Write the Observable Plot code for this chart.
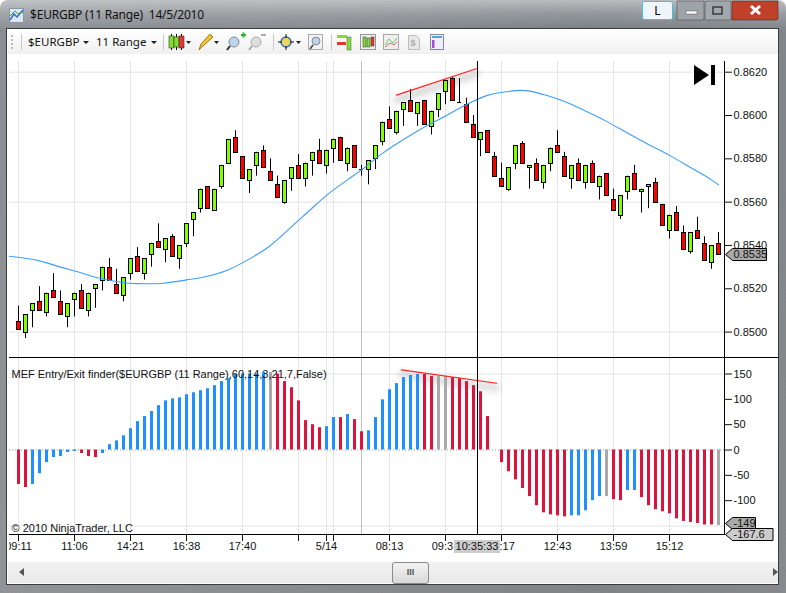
<!DOCTYPE html>
<html><head><meta charset="utf-8">
<script src="https://cdn.jsdelivr.net/npm/d3@7"></script>
<script src="https://cdn.jsdelivr.net/npm/@observablehq/plot@0.6"></script>
<style>
html,body{margin:0;padding:0;background:#fff;width:786px;height:593px;overflow:hidden}
#win{position:absolute;left:0;top:0;width:786px;height:593px;border-radius:8px 8px 0 0;overflow:hidden;
 background:linear-gradient(180deg,rgba(205,207,209,.7) 0,rgba(160,164,168,.35) 14px,rgba(100,105,110,.4) 30px,rgba(110,110,110,.35) 100%),linear-gradient(90deg,#a3a7ab,#989ca0 40%,#8a8f93 75%,#94989c);font-family:"Liberation Sans",Arial,sans-serif;color:#000}
#content{position:absolute;left:7px;top:29px;width:771px;height:555px;background:#fff;outline:1px solid #3a3d40}
#toolbar{position:absolute;left:8px;top:30px;width:770px;height:24px;background:linear-gradient(180deg,#fff,#f0f0f0)}
.ab{position:absolute}
#title{left:30px;top:6px;font:12px/18px "Noto Sans",sans-serif;letter-spacing:-.2px;color:#111;white-space:pre}
.tb{font:11.5px/16px "Noto Sans",sans-serif;color:#111;top:34px}
#pane1,#pane2{position:absolute;left:9px;width:769px}
#pane1{top:55px}#pane2{top:358px}
#divider{position:absolute;left:9px;width:770px;top:357px;height:1px;background:#000}
#scroll{position:absolute;left:8px;top:562px;width:770px;height:21px;background:linear-gradient(180deg,#f2f2f2,#e9e9e9)}
#thumb{position:absolute;left:384px;top:0;width:35px;height:20px;border:1px solid #8a8a8a;border-radius:3px;background:linear-gradient(180deg,#f4f4f4,#d8d8d8);text-align:center;font:bold 9px/19px "Liberation Sans";color:#555}
.shadow{filter:blur(3px)}
svg text{font-family:"Liberation Sans",Arial,sans-serif}
</style></head>
<body>
<div id="win">
 <div id="content"></div>
 <div id="toolbar"></div>
 <svg class="ab" style="left:0;top:0" width="786" height="56">
  <rect x="9.5" y="8.5" width="14" height="14" fill="#dfe6f0" stroke="#8a96a8"/>
  <polyline points="10,20 14,14 17,17 23,10" fill="none" stroke="#2a6fd0" stroke-width="1.5"/>
  <polyline points="10,16 15,11 18,14 23,12" fill="none" stroke="#3aa03a"/>
  <rect x="642.5" y="1.5" width="30" height="18" rx="2" fill="#eef6fb" stroke="#38c4e8"/>
  <path d="M677 1h27v17a2 2 0 0 1-2 2h-25z" fill="#9ea3a8" stroke="#4a4d50" stroke-width=".6"/>
  <path d="M705 1h26v19h-26z" fill="#a2a7ac" stroke="#4a4d50" stroke-width=".6"/>
  <path d="M732 1h46v17a2 2 0 0 1-2 2h-44z" fill="#c0412a" stroke="#4a2d25" stroke-width=".6"/>
  <rect x="686" y="11" width="11" height="3" fill="#fff" stroke="#555" stroke-width=".5"/>
  <rect x="713" y="7" width="9" height="7" fill="none" stroke="#333" stroke-width="1.4"/>
  <path d="M751 6l9 8M760 6l-9 8" stroke="#fff" stroke-width="3"/>
  <g fill="#bbb"><rect x="11" y="35" width="2" height="2"/><rect x="11" y="39" width="2" height="2"/><rect x="11" y="43" width="2" height="2"/><rect x="11" y="47" width="2" height="2"/></g>
  <g stroke="#c8c8c8"><path d="M21.5 34v16M163.5 34v16M273.5 34v16M331.5 34v16"/></g>
  <g fill="#222"><path d="M83 41h6l-3 3zM151 41h6l-3 3zM186 41h5l-2.500 3zM214 41h5l-2.500 3zM296 41h5l-2.500 3z"/></g>
  <g stroke="#000"><path d="M171.500 34v16M176.500 34v16M181.500 34v16"/></g>
  <rect x="169" y="36" width="5" height="12" fill="#7fe030" stroke="#333" stroke-width=".6"/><rect x="174" y="37" width="5" height="10" fill="#7fe030" stroke="#333" stroke-width=".6"/><rect x="179" y="36" width="5" height="12" fill="#e03a30" stroke="#333" stroke-width=".6"/>
  <path d="M199 50l2-6 9-10 3 3-10 9z" fill="#f4c430" stroke="#a07a10"/>
  <circle cx="234" cy="42" r="5" fill="#bcd4ea" stroke="#889"/><path d="M230 46l-3 4" stroke="#333" stroke-width="2"/><path d="M241 35h5M243.500 32.500v5" stroke="#2bb52b" stroke-width="2"/>
  <circle cx="256" cy="42" r="5" fill="#ddd" stroke="#aaa"/><path d="M252 46l-3 4" stroke="#aaa" stroke-width="2"/><path d="M261 35h5" stroke="#aaa" stroke-width="2"/>
  <circle cx="286" cy="42" r="5" fill="#e8d860" stroke="#3a70b0" stroke-width="1.500"/><path d="M278 42h4M290 42h4M286 34v4M286 46v4" stroke="#111"/>
  <rect x="308.500" y="34.500" width="14" height="15" fill="#f4f4f4" stroke="#aaa"/><circle cx="316" cy="41" r="4" fill="#bcd4ea" stroke="#889"/><path d="M313 45l-3 4" stroke="#444" stroke-width="1.500"/>
  <g><rect x="337" y="35" width="10" height="3" fill="#7fe030"/><rect x="337" y="42" width="9" height="3" fill="#e03a30"/><rect x="347" y="37" width="4" height="13" fill="#7fe030" stroke="#555" stroke-width=".5"/></g>
  <rect x="360.500" y="34.500" width="15" height="15" fill="#eee" stroke="#999"/><rect x="363" y="37" width="3" height="10" fill="#7fe030" stroke="#333" stroke-width=".5"/><rect x="367" y="38" width="3" height="9" fill="#7fe030" stroke="#333" stroke-width=".5"/><rect x="371" y="37" width="3" height="9" fill="#e03a30" stroke="#333" stroke-width=".5"/>
  <rect x="383.500" y="34.500" width="15" height="15" fill="#eee" stroke="#aaa"/><polyline points="385,45 389,39 393,43 397,38" fill="none" stroke="#6c6"/><polyline points="385,47 390,43 394,45 397,42" fill="none" stroke="#d66"/>
  <path d="M408.500 35.500h8l3 3v11h-11z" fill="#e8e8e8" stroke="#bbb"/><text x="410.500" y="46" font-size="9" font-weight="bold" fill="#aaa">$</text>
  <rect x="430.500" y="34.500" width="13" height="15" fill="#eef" stroke="#889"/><rect x="432" y="36" width="10" height="2" fill="#4aa8e0"/><rect x="432" y="40" width="2.500" height="8" fill="#a050d8"/>
 </svg>
 <div id="title" class="ab">$EURGBP (11 Range)  14/5/2010</div>
 <div class="ab" style="left:642px;top:3px;width:31px;text-align:center;font:12px/15px 'Noto Sans'">L</div>
 <div class="ab tb" style="left:28px">$EURGBP</div>
 <div class="ab tb" style="left:96px">11 Range</div>
 <div id="pane1"></div>
 <div id="pane2"></div>
 <div id="divider"></div>
 <svg class="ab" style="left:694px;top:65px" width="22" height="21"><path d="M0 0L15 10L0 20z" fill="#000"/><rect x="17" y="0" width="4" height="20" fill="#000"/></svg>
 <div id="scroll"><div id="thumb">III</div>
  <svg class="ab" style="left:0;top:0" width="770" height="21"><path d="M11 10l5-4v8zM765 6l5 4-5 4z" fill="#555"/></svg></div>
</div>
<script>
// ---- price pane (range bars) ----
const opens=[.8505,.8500,.8510,.8514,.8509,.8519,.8514,.8507,.8515,.8519,
.8510,.8520,.8524,.8530,.8522,.8517,.8527,.8535,.8527,.8536,
.8542,.8538,.8544,.8534,.8541,.8552,.8557,.8567,.8556,.8567,
.8578,.8590,.8581,.8570,.8577,.8584,.8574,.8568,.8560,.8571,
.8577,.8571,.8579,.8584,.8577,.8585,.8590,.8578,.8586,.8575,
.8575,.8580,.8588,.8598,.8592,.8603,.8607,.8601,.8607,.8595,
.8603,.8611,.8617,.8606,.8605,.8596,.8589,.8593,.8581,.8571,
.8566,.8578,.8587,.8576,.8578,.8569,.8578,.8586,.8581,.8571,
.8578,.8569,.8578,.8567,.8573,.8561,.8554,.8565,.8573,.8565,
.8567,.8569,.8559,.8547,.8555,.8546,.8537,.8547,.8541,.8532,.8541];
const highs=[.8512,.8508,.8513,.8521,.8518,.8527,.8519,.8513,.8518,.8522,
.8518,.8522,.8530,.8534,.8529,.8525,.8534,.8539,.8534,.8541,
.8550,.8543,.8545,.8540,.8550,.8555,.8566,.8567,.8566,.8577,
.8589,.8593,.8581,.8575,.8583,.8586,.8580,.8572,.8570,.8576,
.8582,.8578,.8583,.8589,.8584,.8589,.8590,.8585,.8586,.8577,
.8579,.8586,.8597,.8604,.8602,.8606,.8612,.8606,.8607,.8602,
.8610,.8616,.8618,.8617,.8608,.8600,.8592,.8593,.8583,.8578,
.8576,.8586,.8588,.8577,.8580,.8577,.8585,.8593,.8583,.8577,
.8580,.8577,.8579,.8572,.8573,.8566,.8563,.8572,.8577,.8566,
.8568,.8571,.8559,.8554,.8558,.8549,.8546,.8553,.8544,.8540,.8546];
const lows=[.8501,.8497,.8502,.8510,.8507,.8516,.8508,.8502,.8507,.8511,
.8507,.8511,.8519,.8524,.8518,.8514,.8524,.8528,.8524,.8530,
.8539,.8532,.8535,.8529,.8539,.8544,.8555,.8557,.8556,.8566,
.8578,.8583,.8571,.8564,.8572,.8576,.8570,.8562,.8559,.8565,
.8571,.8567,.8572,.8578,.8573,.8578,.8579,.8574,.8576,.8572,
.8568,.8575,.8586,.8594,.8591,.8595,.8602,.8595,.8596,.8591,
.8599,.8605,.8607,.8606,.8597,.8590,.8581,.8583,.8572,.8567,
.8565,.8575,.8578,.8566,.8570,.8566,.8574,.8583,.8572,.8566,
.8570,.8566,.8569,.8561,.8563,.8556,.8552,.8561,.8566,.8555,
.8557,.8560,.8549,.8543,.8547,.8538,.8536,.8543,.8533,.8529,.8536];
const closes=[.8501,.8508,.8513,.8510,.8518,.8516,.8508,.8513,.8518,.8511,
.8518,.8522,.8530,.8524,.8518,.8525,.8534,.8528,.8534,.8541,
.8539,.8543,.8535,.8540,.8550,.8555,.8566,.8557,.8566,.8577,
.8589,.8583,.8571,.8575,.8583,.8576,.8570,.8562,.8570,.8576,
.8571,.8578,.8583,.8578,.8584,.8589,.8579,.8585,.8576,.8575,
.8579,.8586,.8597,.8594,.8602,.8606,.8602,.8606,.8596,.8602,
.8610,.8616,.8607,.8606,.8597,.8590,.8592,.8583,.8572,.8567,
.8576,.8586,.8578,.8577,.8570,.8577,.8585,.8583,.8572,.8577,
.8570,.8577,.8569,.8572,.8563,.8556,.8563,.8572,.8566,.8566,
.8568,.8560,.8549,.8554,.8547,.8538,.8546,.8543,.8533,.8540,.8536];
const maBars=[-2,3,6,9,11,13,15,17,19,21,24,26,30,33,36,39,42,44,47,49,52,55,58,61,64,67,70,72,75,78,81,84,87,90,93,96,99,100];
const maValues=[.85352,.85329,.85300,.85273,.85253,.85239,.85228,.85224,.85223,.85227,.85241,.85251,.85288,.85338,.85400,.85486,.85574,.85631,.85703,.85749,.85825,.85889,.85947,.85998,.86051,.86093,.86111,.86116,.86097,.86065,.86021,.85973,.85919,.85866,.85816,.85760,.85703,.85680];
const priceTicks=[.8620,.8600,.8580,.8560,.8540,.8520,.8500];
const priceGrid=[.8620,.8560,.8500];
const priceTrendBars=[54,65.4], priceTrendValues=[.86094,.86216];
const lastPrice=.8535;
// ---- indicator pane ----
const histValues=[-68,-74,-68,-47,-25,-15,-13,-5,-3,-7,-13,-15,-7,10.5,18,28,42,56,66,76,87.5,97,101,103,109,113,117,121,127,135,141,149,150,150,150,
153,153,150,135,123,97,58,50,44,46,64,64,70,60,36,38,64,99,119,131,143,147,149,149,145,145,145,143,141,135,127,115,66,0,
-25,-43,-59,-76,-92,-110,-124,-128,-130,-132,-130,-130,-120,-100,-92,-92,-98,-100,-80,-80,-94,-110,-118,-122,-126,-136,-141,-143,-145,-148,-148,-149];
const histKinds=("rrbbbbbbbrrrbbbbbbbbbbbbbbbbbbbbbbb"+"bgrrrrrrrbbrbrrbbbbbbbbrrggrrrrrrn"+"rrrrrrrrrrbbbbbgrrbbrrrrrrrrrrrgr").split("");
const histPalette={r:"#dc143c",b:"#1e90ff",g:"#a9a9a9",n:"none"};
const indicatorTicks=[150,100,50,0,-50,-100];
const indicatorGrid=[150,-150];
const indicatorTrendBars=[54.7,68.3], indicatorTrendValues=[158.3,131.8];
const indicatorLast=-149, indicatorFlag2=-167.6;
const indicatorName="MEF Entry/Exit finder($EURGBP (11 Range),60,14,3,21,7,False)";
const copyright="© 2010 NinjaTrader, LLC";
// ---- shared time axis ----
const tickBars=[0,8,16,24,32,40,44,45,53,61,69,77,85,93];
const tickLabels=["09:11","11:06","14:21","16:38","17:40","","5/14","","08:13","09:31","11:17","12:43","13:59","15:12"];
const sessionBar=49, cursorBar=65.57, cursorLabel="10:35:33";

const bars=opens.map((o,i)=>({i,o,h:highs[i],l:lows[i],c:closes[i]}));
const ma=maBars.map((i,k)=>({i,v:maValues[k]}));
const hist=histValues.map((v,i)=>({i,v,k:histPalette[histKinds[i]]})).filter(d=>d.k!=="none");
const toPairs=(xs,ys)=>xs.map((i,k)=>({i,v:ys[k]}));
const xOpts={type:"linear",domain:[-9/7,-9/7+715/7],range:[0,715],axis:null};
const GRID="#e4e4e4", W=769, HW=2/7, FS=11;

function flag(value,label,fill,w,dy){
  return (idx,{y},vals,{width,marginRight})=>{
    const x0=width-marginRight+1.5, yy=Math.round(y(value)+dy)+.5, h=6;
    const g=d3.create("svg:g");
    g.append("polygon").attr("points",[[x0,yy],[x0+7,yy-h],[x0+w,yy-h],[x0+w,yy+h],[x0+7,yy+h]].join(" ")).attr("fill",fill).attr("stroke","#000").attr("stroke-width",1);
    g.append("text").attr("x",x0+8).attr("y",yy).attr("dy","0.36em").attr("text-anchor","start").attr("font-size",FS).attr("fill","#111").text(label);
    return g.node();
  };
}
const sharedStyle={fontFamily:"Liberation Sans, Arial, sans-serif",fontSize:FS+"px",background:"white",color:"#111"};

const p1=Plot.plot({
  width:W,height:303,marginLeft:0,marginRight:54,marginTop:6,marginBottom:0,
  style:sharedStyle,
  x:xOpts,
  y:{type:"linear",domain:[.8620,.8500],range:[16.7,276.6],axis:null},
  marks:[
    Plot.ruleX(tickBars,{x:d=>d,stroke:GRID}),
    Plot.ruleY(priceGrid,{y:d=>d,stroke:GRID}),
    Plot.ruleX([sessionBar],{x:d=>d,stroke:"#c0c0c0"}),
    Plot.line(toPairs(priceTrendBars,priceTrendValues),{x:"i",y:"v",stroke:"#888",strokeWidth:7,strokeOpacity:.35,dy:5,className:"shadow"}),
    Plot.ruleX(bars,{x:"i",y1:"h",y2:"l",stroke:"#000"}),
    Plot.rect(bars.filter(d=>d.o!==d.c),{x1:d=>d.i-HW,x2:d=>d.i+HW,y1:"o",y2:"c",fill:d=>d.c>d.o?"#7fff00":"#ff0000",stroke:"#000",strokeWidth:1,dx:.5,dy:.5,shapeRendering:"crispEdges"}),
    Plot.ruleY(bars.filter(d=>d.o===d.c),{y:"c",x1:d=>d.i-HW,x2:d=>d.i+HW,stroke:"#000"}),
    Plot.line(ma,{x:"i",y:"v",stroke:"#3d9eff",strokeWidth:1.1,curve:"monotone-x",clip:true}),
    Plot.line(toPairs(priceTrendBars,priceTrendValues),{x:"i",y:"v",stroke:"#ff2020",strokeWidth:1.2}),
    Plot.ruleX([cursorBar],{x:d=>d,stroke:"#000"}),
    Plot.axisY(priceTicks,{anchor:"right",tickSize:7,tickPadding:2,tickFormat:".4f",label:null}),
    Plot.frame({anchor:"right",stroke:"#000"}),
    flag(lastPrice,"0.8535","#a9a9a9",41,-2)
  ]
});
document.getElementById("pane1").append(p1);

const p2=Plot.plot({
  width:W,height:204,marginLeft:0,marginRight:54,marginTop:0,marginBottom:28,
  style:sharedStyle,
  x:xOpts,
  y:{type:"linear",domain:[150,-150],range:[15.5,167.5],axis:null},
  marks:[
    Plot.ruleX(tickBars,{x:d=>d,stroke:GRID}),
    Plot.ruleY(indicatorGrid,{y:d=>d,stroke:GRID}),
    Plot.ruleX([sessionBar],{x:d=>d,stroke:"#c0c0c0"}),
    Plot.ruleY([0],{stroke:"#999",strokeDasharray:"1,2"}),
    Plot.text([copyright],{frameAnchor:"bottom-left",dx:2,dy:-3,fill:"#111",fontSize:FS,text:d=>d}),
    Plot.line(toPairs(indicatorTrendBars,indicatorTrendValues),{x:"i",y:"v",stroke:"#888",strokeWidth:7,strokeOpacity:.3,dy:5,className:"shadow"}),
    Plot.ruleX(hist,{x:"i",y1:0,y2:"v",stroke:"k",strokeWidth:3}),
    Plot.text([indicatorName],{frameAnchor:"top-left",dx:2,dy:12,fill:"#111",fontSize:FS,text:d=>d}),
    Plot.line(toPairs(indicatorTrendBars,indicatorTrendValues),{x:"i",y:"v",stroke:"#ff2020",strokeWidth:1.2}),
    Plot.ruleX([cursorBar],{x:d=>d,stroke:"#000"}),
    Plot.axisY(indicatorTicks,{anchor:"right",tickSize:7,tickPadding:2,tickFormat:d=>String(d),label:null}),
    Plot.axisX(tickBars,{anchor:"bottom",tickSize:7,tickPadding:1,tickFormat:(d,k)=>tickLabels[tickBars.indexOf(d)],label:null}),
    Plot.frame({anchor:"right",stroke:"#000"}),
    Plot.frame({anchor:"bottom",stroke:"#000"}),
    (idx,{x},vals,{height,marginBottom})=>{
      const g=d3.create("svg:g"), cx=x(cursorBar), yy=height-marginBottom+6;
      g.append("rect").attr("x",cx-23).attr("y",yy).attr("width",46).attr("height",13).attr("fill","#cccccc");
      g.append("text").attr("x",cx).attr("y",yy+6.5).attr("dy","0.36em").attr("text-anchor","middle").attr("font-size",FS).attr("fill","#111").text(cursorLabel);
      return g.node();
    },
    flag(indicatorLast,"-149","#a9a9a9",30,-2),
    flag(indicatorFlag2,"-167.6","#cccccc",47.5,0)
  ]
});
document.getElementById("pane2").append(p2);
</script>
</body></html>
